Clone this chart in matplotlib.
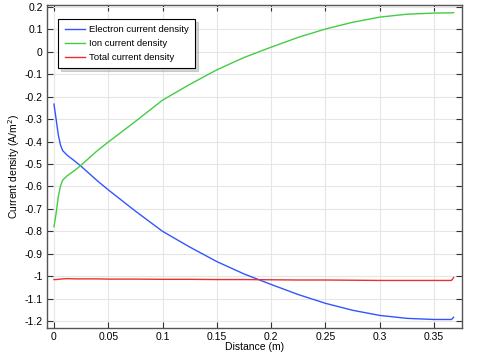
import matplotlib
matplotlib.use("Agg")
import matplotlib.pyplot as plt

plt.rcParams["font.family"] = ["Liberation Sans", "DejaVu Sans"]

x_vals = [0.0, 0.002, 0.004, 0.006, 0.008, 0.012, 0.02, 0.025, 0.04, 0.05, 0.075, 0.1, 0.125,
          0.15, 0.175, 0.2, 0.225, 0.25, 0.275, 0.3, 0.325, 0.35, 0.366, 0.368]
electron = [-0.233, -0.30, -0.37, -0.415, -0.44, -0.46, -0.49, -0.51, -0.575, -0.615, -0.71, -0.80,
            -0.87, -0.935, -0.99, -1.037, -1.082, -1.121, -1.152, -1.175, -1.188, -1.193, -1.193, -1.183]
ion = [-0.78, -0.72, -0.645, -0.598, -0.572, -0.553, -0.525, -0.505, -0.44, -0.402, -0.31, -0.215,
       -0.145, -0.08, -0.025, 0.021, 0.065, 0.102, 0.132, 0.155, 0.168, 0.173, 0.174, 0.175]
total = [-1.015, -1.015, -1.014, -1.013, -1.012, -1.011, -1.012, -1.012, -1.012, -1.013, -1.013, -1.014,
         -1.014, -1.015, -1.015, -1.016, -1.017, -1.017, -1.018, -1.019, -1.019, -1.019, -1.019, -1.006]

xticks = [0, 0.05, 0.1, 0.15, 0.2, 0.25, 0.3, 0.35]
xticklabels = ["0", "0.05", "0.1", "0.15", "0.2", "0.25", "0.3", "0.35"]
yticks = [0.2, 0.1, 0, -0.1, -0.2, -0.3, -0.4, -0.5, -0.6, -0.7, -0.8, -0.9, -1.0, -1.1, -1.2]
yticklabels = ["0.2", "0.1", "0", "-0.1", "-0.2", "-0.3", "-0.4", "-0.5", "-0.6", "-0.7", "-0.8",
               "-0.9", "-1", "-1.1", "-1.2"]

fig = plt.figure(figsize=(4.82, 3.56), dpi=100)
ax = fig.add_axes([47/482, 1 - 328/356, (462-47)/482, (328-5)/356])

ax.plot(x_vals, electron, color="#3355ff", lw=1.0, label="Electron current density")
ax.plot(x_vals, ion, color="#44cc44", lw=1.0, label="Ion current density")
ax.plot(x_vals, total, color="#e83030", lw=1.0, label="Total current density")

ax.set_xlim(-0.0064, 0.3757)
ax.set_ylim(-1.231, 0.209)
ax.set_xticks(xticks)
ax.set_xticklabels(xticklabels)
ax.set_yticks(yticks)
ax.set_yticklabels(yticklabels)
ax.grid(True, color="#e6e6e6", lw=0.8)
ax.set_axisbelow(True)
ax.tick_params(direction="in", top=True, right=True, labelsize=7.5, length=4, width=0.8,
               colors="#333333", pad=3)
ax.tick_params(labelcolor="black")
for s in ax.spines.values():
    s.set_color("#555555")
    s.set_linewidth(1.0)

ax.set_xlabel("Distance (m)", fontsize=7.5, labelpad=0)
ax.set_ylabel("Current density (A/m$^2$)", fontsize=7.5, labelpad=2)

leg = ax.legend(loc="upper left", bbox_to_anchor=(0.015, 0.972), fontsize=6.8, frameon=True,
                fancybox=False, shadow={"color": "#999999", "alpha": 0.4}, borderpad=0.7,
                handlelength=2.2, handletextpad=0.4, labelspacing=0.5)
leg.get_frame().set_edgecolor("black")
leg.get_frame().set_linewidth(0.8)

fig.savefig("out.png", dpi=100)
